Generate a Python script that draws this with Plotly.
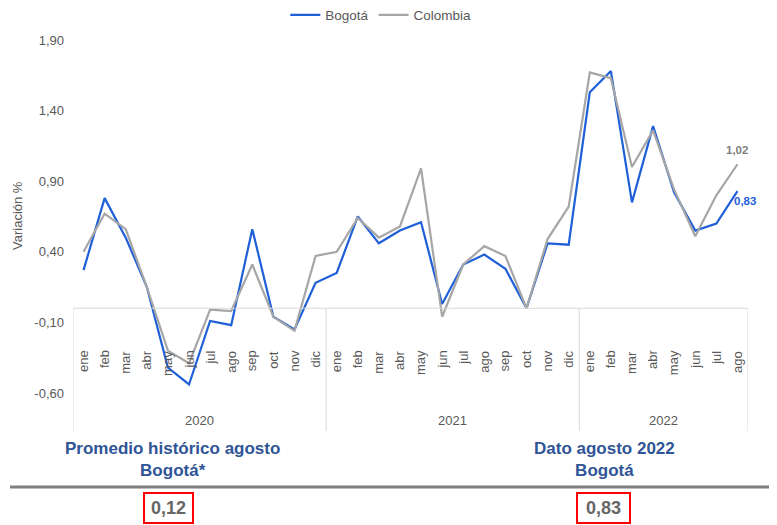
import plotly.graph_objects as go

months = ["ene", "feb", "mar", "abr", "may", "jun", "jul", "ago", "sep", "oct", "nov", "dic",
          "ene", "feb", "mar", "abr", "may", "jun", "jul", "ago", "sep", "oct", "nov", "dic",
          "ene", "feb", "mar", "abr", "may", "jun", "jul", "ago"]
years = ["2020", "2021", "2022"]
year_counts = [12, 12, 8]

bogota = [0.27, 0.78, 0.50, 0.15, -0.42, -0.54, -0.09, -0.12, 0.56, -0.06, -0.15, 0.18,
          0.25, 0.65, 0.46, 0.55, 0.61, 0.03, 0.31, 0.38, 0.28, 0.00, 0.46, 0.45,
          1.53, 1.68, 0.75, 1.29, 0.82, 0.55, 0.60, 0.83]
colombia = [0.40, 0.67, 0.56, 0.15, -0.30, -0.39, -0.01, -0.02, 0.31, -0.06, -0.16, 0.37,
            0.40, 0.64, 0.50, 0.58, 0.99, -0.06, 0.31, 0.44, 0.37, 0.00, 0.49, 0.72,
            1.67, 1.63, 1.00, 1.26, 0.84, 0.51, 0.80, 1.02]

y_ticks = [-0.60, -0.10, 0.40, 0.90, 1.40, 1.90]
y_ticktext = ["-0,60", "-0,10", "0,40", "0,90", "1,40", "1,90"]

promedio_hist = "0,12"
dato_actual = "0,83"

BLUE = "#1f5fd8"
GRAY = "#a6a6a6"
TXT = "#595959"
DARKBLUE = "#2f5597"
FONT = "Liberation Sans, Arial, sans-serif"

x = list(range(len(months)))

fig = go.Figure()
fig.add_trace(go.Scatter(x=x, y=bogota, mode="lines", name="Bogotá",
                         line=dict(color=BLUE, width=2.2)))
fig.add_trace(go.Scatter(x=x, y=colombia, mode="lines", name="Colombia",
                         line=dict(color=GRAY, width=2.2)))

n = len(months)
# category axis line at zero
fig.add_shape(type="line", xref="x", yref="y", x0=-0.5, x1=n - 0.5, y0=0, y1=0,
              line=dict(color="#d9d9d9", width=1))
# group dividers
bounds = [-0.5]
acc = -0.5
for c in year_counts:
    acc += c
    bounds.append(acc)
for b in bounds:
    fig.add_shape(type="line", xref="x", yref="y", x0=b, x1=b, y0=0, y1=-0.8695,
                  line=dict(color="#d9d9d9", width=1))

annotations = []
for i, m in enumerate(months):
    annotations.append(dict(x=i, y=-0.285, xref="x", yref="y", text=m, textangle=-90,
                            showarrow=False, xanchor="center", yanchor="top",
                            font=dict(family=FONT, size=13, color=TXT)))
start = 0
for yr, c in zip(years, year_counts):
    annotations.append(dict(x=start + (c - 1) / 2, y=-0.795, xref="x", yref="y", text=yr,
                            showarrow=False, xanchor="center", yanchor="middle",
                            font=dict(family=FONT, size=13, color=TXT)))
    start += c

# end-point data labels
annotations.append(dict(x=n - 1, y=colombia[-1], xref="x", yref="y",
                        text="<b>" + f"{colombia[-1]:.2f}".replace(".", ",") + "</b>",
                        showarrow=False, xanchor="center", yanchor="middle", yshift=14,
                        font=dict(family=FONT, size=11.5, color="#7f7f7f")))
annotations.append(dict(x=n - 1, y=bogota[-1], xref="x", yref="y",
                        text="<b>" + f"{bogota[-1]:.2f}".replace(".", ",") + "</b>",
                        showarrow=False, xanchor="left", yanchor="middle", xshift=-5, yshift=-10,
                        font=dict(family=FONT, size=11.5, color=BLUE)))

# y-axis title
annotations.append(dict(x=0, y=0.543, xref="paper", yref="paper", text="Variación %",
                        textangle=-90, showarrow=False, xanchor="center", yanchor="middle",
                        xshift=-55, font=dict(family=FONT, size=13, color=TXT)))

# bottom panel
annotations.append(dict(x=0.1467, y=-0.0732, xref="paper", yref="paper",
                        text="<b>Promedio histórico agosto<br>Bogotá*</b>",
                        showarrow=False, xanchor="center", yanchor="middle",
                        font=dict(family=FONT, size=17, color=DARKBLUE)))
annotations.append(dict(x=0.788, y=-0.0732, xref="paper", yref="paper",
                        text="<b>Dato agosto 2022<br>Bogotá</b>",
                        showarrow=False, xanchor="center", yanchor="middle",
                        font=dict(family=FONT, size=17, color=DARKBLUE)))
annotations.append(dict(x=0.1415, y=-0.194, xref="paper", yref="paper",
                        text="<b>" + promedio_hist + "</b>",
                        showarrow=False, xanchor="center", yanchor="middle",
                        font=dict(family=FONT, size=18, color="#666666")))
annotations.append(dict(x=0.7855, y=-0.194, xref="paper", yref="paper",
                        text="<b>" + dato_actual + "</b>",
                        showarrow=False, xanchor="center", yanchor="middle",
                        font=dict(family=FONT, size=18, color="#666666")))

fig.add_shape(type="line", xref="paper", yref="paper", x0=-0.0933, x1=1.043,
              y0=-0.1414, y1=-0.1414, line=dict(color="#7f7f7f", width=3))
fig.add_shape(type="rect", xref="paper", yref="paper", x0=0.1052, x1=0.1778,
              y0=-0.2323, y1=-0.1566, line=dict(color="#ff0000", width=2))
fig.add_shape(type="rect", xref="paper", yref="paper", x0=0.7467, x1=0.8252,
              y0=-0.2323, y1=-0.1566, line=dict(color="#ff0000", width=2))

# The page body has an 8px margin: size the figure so the plot lands where the reference has it.
fig.update_layout(
    width=769, height=517,
    margin=dict(l=65, r=29, t=27, b=94, autoexpand=False),
    paper_bgcolor="white", plot_bgcolor="white",
    font=dict(family=FONT, size=13, color=TXT),
    showlegend=True,
    legend=dict(orientation="h", xref="paper", yref="paper", x=0.456, y=1.0505,
                xanchor="center", yanchor="middle", itemwidth=30,
                font=dict(family=FONT, size=13.5, color=TXT), bgcolor="rgba(0,0,0,0)"),
    xaxis=dict(range=[-0.5, n - 0.5], visible=False, fixedrange=True),
    yaxis=dict(range=[-0.8695, 1.9355], tickvals=y_ticks, ticktext=y_ticktext,
               showgrid=False, zeroline=False, showline=False, ticks="",
               ticklabelstandoff=8, tickfont=dict(family=FONT, size=13, color=TXT)),
    annotations=annotations,
)

fig.write_html("out.html")
